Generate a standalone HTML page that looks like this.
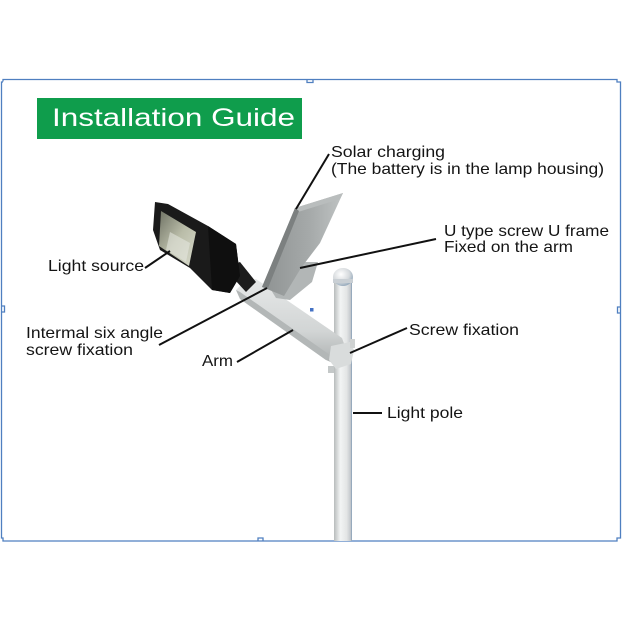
<!DOCTYPE html>
<html><head><meta charset="utf-8"><style>
html,body{margin:0;padding:0;background:#fff;}
svg{display:block;}
text{font-family:"Liberation Sans",Arial,sans-serif;fill:#141414;}
</style></head><body>
<svg width="622" height="622" viewBox="0 0 622 622" xmlns="http://www.w3.org/2000/svg">
<defs>
<linearGradient id="pole" x1="0" x2="1" y1="0" y2="0">
<stop offset="0" stop-color="#b8bcbc"/><stop offset="0.35" stop-color="#f2f4f4"/><stop offset="0.7" stop-color="#e4e6e6"/><stop offset="0.92" stop-color="#c4c8cc"/><stop offset="1" stop-color="#7f9ab5"/>
</linearGradient>
<linearGradient id="arm" x1="0" x2="0" y1="0" y2="1">
<stop offset="0" stop-color="#e6e8e8"/><stop offset="0.6" stop-color="#d2d5d5"/><stop offset="1" stop-color="#a9adad"/>
</linearGradient>
<linearGradient id="panel" x1="0" x2="1" y1="0" y2="0">
<stop offset="0" stop-color="#8e9292"/><stop offset="0.6" stop-color="#a6aaaa"/><stop offset="1" stop-color="#bfc3c3"/>
</linearGradient>
<linearGradient id="led" x1="0" x2="1" y1="0" y2="1">
<stop offset="0" stop-color="#6f7264"/><stop offset="0.5" stop-color="#b9bca8"/><stop offset="1" stop-color="#d8dacb"/>
</linearGradient>
<radialGradient id="knob" cx="0.4" cy="0.35" r="0.7">
<stop offset="0" stop-color="#ffffff"/><stop offset="0.6" stop-color="#d6dadd"/><stop offset="1" stop-color="#8ea4b8"/>
</radialGradient>
</defs>

<!-- frame -->
<g fill="none" stroke="#4f7fc0" stroke-width="1.3">
<path d="M3,81.5 L3,79.5 L617,79.5 L617,82 L620.5,82 L620.5,538 L617,538 L617,541 L3,541 L3,538 L1.5,538 L1.5,82 L3,82"/>
<path d="M307,79.5 L307,82.5 L313,82.5 L313,79.5"/>
<path d="M1.5,306 L4.5,306 L4.5,312 L1.5,312"/>
<path d="M620.5,307 L617.5,307 L617.5,313 L620.5,313"/>
<path d="M258,541 L258,538 L263,538 L263,541"/>
</g>

<!-- title -->
<rect x="37" y="98" width="265" height="41" fill="#0f9d4c"/>
<text x="52" y="126" font-size="25" fill="#ffffff" style="fill:#fff" textLength="243" lengthAdjust="spacingAndGlyphs">Installation Guide</text>

<!-- pole -->
<rect x="334" y="279" width="18" height="262" fill="url(#pole)"/>
<ellipse cx="343" cy="277" rx="10" ry="9" fill="url(#knob)"/>
<rect x="333" y="279" width="20" height="4" fill="#c9cfd4"/>

<!-- arm -->
<polygon points="245,281 256,279 342,338 347,352 340,366 326,360 240,299 236,290" fill="url(#arm)"/>
<polygon points="236,290 240,299 326,360 330,355 240,292" fill="#b3b7b7"/>
<!-- clamp -->
<polygon points="331,346 350,342 354,350 351,364 336,369 329,360" fill="#d9dcdc"/>
<rect x="328" y="366" width="6" height="7" fill="#c4c8c8"/>
<rect x="350" y="339" width="5" height="9" fill="#cfd2d2"/>

<!-- solar panel bracket -->
<polygon points="268,285 300,262 318,262 312,282 290,300 276,298" fill="#b2b6b6"/>
<!-- solar panel -->
<polygon points="295,208 343,193 320,243 301,268 284,296 262,287" fill="url(#panel)"/>
<polygon points="295,208 343,193 340,199 298,212" fill="#b9bdbd"/>
<polygon points="262,287 295,208 299,211 268,288" fill="#7c8080"/>

<!-- lamp neck -->
<polygon points="224,268 240,262 256,282 246,292" fill="#1c1c1c"/>
<!-- lamp head -->
<polygon points="155,202 168,204 208,226 236,244 240,276 230,293 212,290 190,268 160,250 153,230" fill="#1a1a1a"/>
<polygon points="161,211 196,232 189,266 159,246" fill="url(#led)"/>
<polygon points="170,232 190,243 186,262 166,250" fill="#e8e9e2" opacity="0.55"/>
<polygon points="208,226 236,244 240,276 230,293 212,290" fill="#0f0f0f"/>

<!-- leader lines -->
<g stroke="#111" stroke-width="2" fill="none">
<line x1="329" y1="154" x2="296" y2="209"/>
<line x1="436" y1="239" x2="300" y2="268"/>
<line x1="145" y1="268" x2="170" y2="251"/>
<line x1="159" y1="345" x2="267" y2="288"/>
<line x1="237" y1="362" x2="293" y2="330"/>
<line x1="350" y1="353" x2="407" y2="328"/>
<line x1="353" y1="413" x2="382" y2="413"/>
</g>

<!-- blue dot -->
<rect x="310" y="308" width="3.5" height="3.5" fill="#4472c4"/>

<!-- labels -->
<g font-size="16">
<text x="331" y="157" textLength="114" lengthAdjust="spacingAndGlyphs">Solar charging</text>
<text x="331" y="174" textLength="273" lengthAdjust="spacingAndGlyphs">(The battery is in the lamp housing)</text>
<text x="444" y="236" textLength="165" lengthAdjust="spacingAndGlyphs">U type screw U frame</text>
<text x="444" y="252" textLength="129" lengthAdjust="spacingAndGlyphs">Fixed on the arm</text>
<text x="48" y="271" textLength="96" lengthAdjust="spacingAndGlyphs">Light source</text>
<text x="26" y="338" textLength="137" lengthAdjust="spacingAndGlyphs">Intermal six angle</text>
<text x="26" y="355" textLength="107" lengthAdjust="spacingAndGlyphs">screw fixation</text>
<text x="202" y="366" textLength="31" lengthAdjust="spacingAndGlyphs">Arm</text>
<text x="409" y="335" textLength="110" lengthAdjust="spacingAndGlyphs">Screw fixation</text>
<text x="387" y="418" textLength="76" lengthAdjust="spacingAndGlyphs">Light pole</text>
</g>
</svg>
</body></html>
